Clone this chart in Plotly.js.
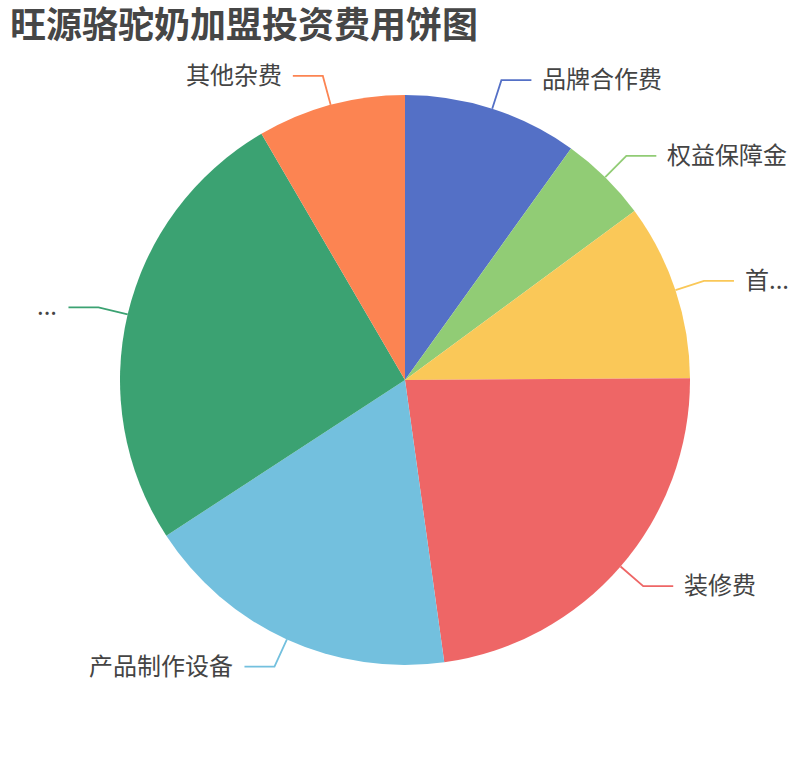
<!DOCTYPE html>
<html>
<head>
<meta charset="utf-8">
<script src="https://cdn.plot.ly/plotly-3.0.1.min.js"></script>
<style>
html,body{margin:0;padding:0;background:#fff;}
#chart{width:810px;height:760px;}
</style>
</head>
<body>
<div id="chart"></div>
<script>
// ---- data ----
var titleText = '旺源骆驼奶加盟投资费用饼图';
var categories = ['品牌合作费', '权益保障金', '首...', '装修费', '产品制作设备', '...', '其他杂费'];
var values = [9.9, 5.0, 10.0, 22.9, 18.0, 25.8, 8.4];
var colors = ['#5470c6', '#91cc75', '#fac858', '#ee6666', '#73c0de', '#3ba272', '#fc8452'];

// ---- layout constants ----
var W = 810, H = 760;
var domY = [0.125, 0.875];
var cx = W / 2;
var cy = H - H * (domY[0] + domY[1]) / 2;
var R = Math.min(W, H * (domY[1] - domY[0])) / 2;
var len1 = 30, len2 = 30, gap = 9, lift = 2.5;
var labelFont = {family: '"Noto Sans CJK SC", "Noto Sans", sans-serif', size: 24, color: '#444'};

function px2paperX(x) { return x / W; }
function px2paperY(y) { return 1 - y / H; }

var total = values.reduce(function (a, b) { return a + b; }, 0);
var shapes = [], annotations = [];
var cum = 0;
for (var i = 0; i < values.length; i++) {
  var mid = (cum + values[i] / 2) / total * 2 * Math.PI;
  cum += values[i];
  var sx = Math.sin(mid), sy = -Math.cos(mid);
  var x0 = cx + R * sx, y0 = cy + R * sy;
  var x1 = cx + (R + len1) * sx, y1 = cy + (R + len1) * sy;
  var right = sx >= 0;
  var x2 = x1 + (right ? len2 : -len2), y2 = y1;
  shapes.push({
    type: 'path', xref: 'paper', yref: 'paper',
    path: 'M ' + px2paperX(x0) + ',' + px2paperY(y0) +
          ' L ' + px2paperX(x1) + ',' + px2paperY(y1) +
          ' L ' + px2paperX(x2) + ',' + px2paperY(y2),
    line: {color: colors[i], width: 1.8}
  });
  annotations.push({
    xref: 'paper', yref: 'paper',
    x: px2paperX(x2 + (right ? gap : -gap)), y: px2paperY(y2 - lift),
    xanchor: right ? 'left' : 'right', yanchor: 'middle',
    text: categories[i], showarrow: false, font: labelFont
  });
}

var trace = {
  type: 'pie',
  labels: categories,
  values: values,
  sort: false,
  direction: 'clockwise',
  rotation: 0,
  textinfo: 'none',
  hoverinfo: 'label+value+percent',
  marker: {colors: colors, line: {width: 0}},
  domain: {x: [0, 1], y: domY},
  showlegend: false
};

var layout = {
  width: W, height: H,
  margin: {l: 0, r: 0, t: 0, b: 0},
  paper_bgcolor: '#fff',
  plot_bgcolor: '#fff',
  showlegend: false,
  title: {
    text: '<b>' + titleText + '</b>',
    x: 10 / W, xanchor: 'left', xref: 'container',
    y: 1 - 25 / H, yanchor: 'middle', yref: 'container',
    font: {family: '"Noto Sans CJK SC", "Noto Sans", sans-serif', size: 36, color: '#464646'}
  },
  shapes: shapes,
  annotations: annotations
};

Plotly.newPlot('chart', [trace], layout, {displayModeBar: false});
</script>
</body>
</html>
